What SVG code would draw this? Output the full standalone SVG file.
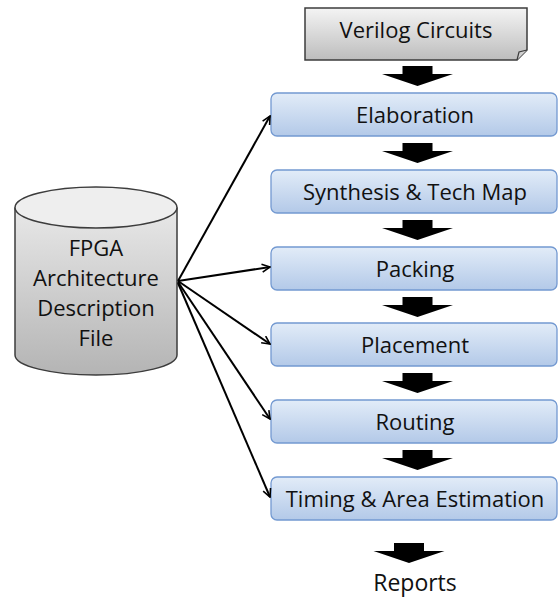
<svg xmlns="http://www.w3.org/2000/svg" width="559" height="599" viewBox="0 0 559 599">
  <defs>
    <linearGradient id="gBlue" x1="0" y1="0" x2="0" y2="1">
      <stop offset="0" stop-color="#e2ecf8"/>
      <stop offset="1" stop-color="#b3c9e8"/>
    </linearGradient>
    <linearGradient id="gGray" x1="0" y1="0" x2="0" y2="1">
      <stop offset="0" stop-color="#f4f4f4"/>
      <stop offset="1" stop-color="#bdbdbd"/>
    </linearGradient>
    <linearGradient id="gCyl" x1="0" y1="0" x2="0" y2="1">
      <stop offset="0" stop-color="#e8e8e8"/>
      <stop offset="1" stop-color="#b4b4b4"/>
    </linearGradient>
    <marker id="open" viewBox="0 0 10 10" refX="9" refY="5" markerWidth="10" markerHeight="10" markerUnits="userSpaceOnUse" orient="auto">
      <path d="M1,1 L9,5 L1,9" fill="none" stroke="#000" stroke-width="1.6"/>
    </marker>
    <!-- thick block arrow pointing down, tip at (0,20) -->
    <path id="blk" d="M-15,0 H15 V8 H35.5 L0,20 L-35.5,8 H-15 Z" fill="#000"/>
  </defs>
  <style>
    .step { fill: url(#gBlue); stroke: #7399d1; stroke-width: 1.3; }
    .lbl { font-family: "Open Sans", "Noto Sans", sans-serif; font-size: 22px; fill: #111; text-anchor: middle; }
    .big { font-size: 23px; }
    .conn { stroke: #000; stroke-width: 2; fill: none; marker-end: url(#open); }
  </style>

  <!-- input netlist (document shape) -->
  <g id="verilog">
    <path d="M305,8 H527 V50 L517,60 H305 Z" fill="url(#gGray)" stroke="#3c3c3c" stroke-width="1.5"/>
    <path d="M527,50 L519,52 L517,60" fill="#d0d0d0" stroke="#3c3c3c" stroke-width="1.2"/>
    <text class="lbl" x="416" y="38">Verilog Circuits</text>
  </g>

  <!-- architecture file (cylinder) -->
  <g id="arch">
    <path d="M15,207.5 V355 A81,20 0 0 0 177,355 V207.5" fill="url(#gCyl)" stroke="#3c3c3c" stroke-width="1.5"/>
    <ellipse cx="96" cy="207.5" rx="81" ry="20.5" fill="#eeeeee" stroke="#3c3c3c" stroke-width="1.5"/>
    <text class="lbl" x="96" y="256">FPGA</text>
    <text class="lbl" x="96" y="286">Architecture</text>
    <text class="lbl" x="96" y="316">Description</text>
    <text class="lbl" x="96" y="346">File</text>
  </g>

  <!-- flow stages -->
  <g id="elaboration">
    <rect class="step" x="271" y="93" width="286" height="43" rx="6"/>
    <text class="lbl" x="415" y="122.5">Elaboration</text>
  </g>
  <g id="synthesis">
    <rect class="step" x="271" y="170" width="286" height="43" rx="6"/>
    <text class="lbl" x="415" y="199.5">Synthesis &amp; Tech Map</text>
  </g>
  <g id="packing">
    <rect class="step" x="271" y="247" width="286" height="43" rx="6"/>
    <text class="lbl" x="415" y="276.5">Packing</text>
  </g>
  <g id="placement">
    <rect class="step" x="271" y="323" width="286" height="43" rx="6"/>
    <text class="lbl" x="415" y="352.5">Placement</text>
  </g>
  <g id="routing">
    <rect class="step" x="271" y="400" width="286" height="43" rx="6"/>
    <text class="lbl" x="415" y="429.5">Routing</text>
  </g>
  <g id="timing">
    <rect class="step" x="271" y="477" width="286" height="43" rx="6"/>
    <text class="lbl" x="415" y="506.5">Timing &amp; Area Estimation</text>
  </g>
  <g id="reports">
    <text class="lbl big" x="415" y="591">Reports</text>
  </g>

  <g id="connectors">
    <!-- block arrows down the flow -->
    <use href="#blk" x="417.5" y="66"/>
    <use href="#blk" x="417.5" y="143"/>
    <use href="#blk" x="417.5" y="220"/>
    <use href="#blk" x="417.5" y="297"/>
    <use href="#blk" x="417.5" y="373"/>
    <use href="#blk" x="417.5" y="450"/>
    <use href="#blk" x="409" y="543"/>
    <!-- architecture file feeds the stages -->
    <path class="conn" d="M178,281 L270,116"/>
    <path class="conn" d="M178,281 L270,267"/>
    <path class="conn" d="M178,281 L270,344"/>
    <path class="conn" d="M178,282 L270,419"/>
    <path class="conn" d="M178,283 L270,497"/>
  </g>
</svg>
